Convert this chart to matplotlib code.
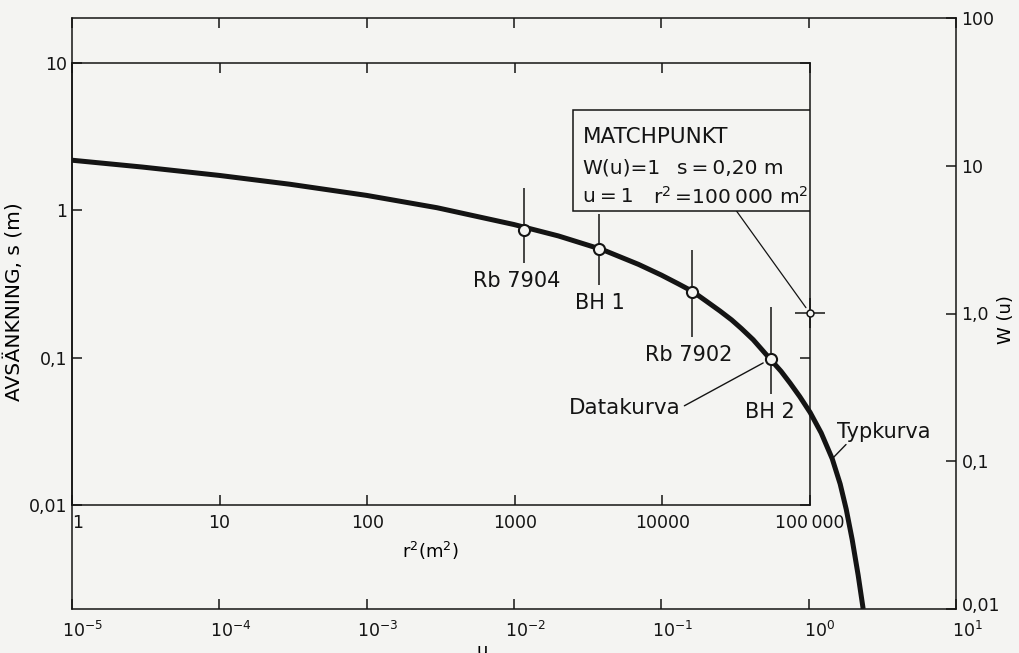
import matplotlib
matplotlib.use("Agg")
import matplotlib.pyplot as plt
import matplotlib.transforms as mtransforms
from matplotlib.patches import Rectangle

# type curve W(u)
u_curve = [1e-5, 3e-5, 1e-4, 3e-4, 1e-3, 3e-3, 1e-2, 2e-2, 4e-2, 7e-2, 0.1, 0.13, 0.163,
           0.2, 0.25, 0.3, 0.35, 0.42, 0.54, 0.65, 0.748, 0.87, 1.023, 1.216, 1.445,
           1.636, 1.798, 1.974, 2.168, 2.344]
W_curve = [10.9, 9.8, 8.6, 7.5, 6.3, 5.2, 4.0, 3.35, 2.7, 2.15, 1.82, 1.59, 1.41,
           1.22, 1.04, 0.905, 0.79, 0.665, 0.50, 0.406, 0.338, 0.274, 0.214, 0.1555, 0.104,
           0.0702, 0.0474, 0.0295, 0.0169, 0.0100]

# observation wells (data curve)
wells = ["Rb 7904", "BH 1", "Rb 7902", "BH 2"]
r2_obs = [1160, 3740, 15960, 54000]
s_obs = [0.73, 0.545, 0.278, 0.098]
s_bar_top = [1.41, 0.95, 0.54, 0.22]
s_bar_bot = [0.44, 0.31, 0.138, 0.057]

# match point
match_r2 = 1e5
match_s = 0.20
typ_u = 1.445
typ_W = 0.104

u_ticks = [1e-5, 1e-4, 1e-3, 1e-2, 1e-1, 1, 10]
u_labels = [r"$\mathdefault{10^{-5}}$", r"$\mathdefault{10^{-4}}$", r"$\mathdefault{10^{-3}}$",
            r"$\mathdefault{10^{-2}}$", r"$\mathdefault{10^{-1}}$", r"$\mathdefault{10^{0}}$",
            r"$\mathdefault{10^{1}}$"]
W_ticks = [0.01, 0.1, 1, 10, 100]
W_labels = ["0,01", "0,1", "1,0", "10", "100"]
r2_ticks = [1, 10, 100, 1000, 10000, 100000]
r2_labels = ["1", "10", "100", "1000", "10000", "100\u2009000"]
s_ticks = [0.01, 0.1, 1, 10]
s_labels = ["0,01", "0,1", "1", "10"]

bg = "#f4f4f2"
ink = "#141414"
plt.rcParams["font.family"] = ["DejaVu Sans"]
plt.rcParams["mathtext.default"] = "regular"
plt.rcParams["text.color"] = ink
plt.rcParams["axes.edgecolor"] = ink
plt.rcParams["xtick.color"] = ink
plt.rcParams["ytick.color"] = ink

fig = plt.figure(figsize=(10.2, 6.53), dpi=100, facecolor=bg)

# outer axes: type curve u / W(u)
ax = fig.add_axes([72 / 1020, 44 / 653, 884 / 1020, 591 / 653])
ax.set_facecolor(bg)
ax.set_xscale("log")
ax.set_yscale("log")
ax.set_xlim(1e-5, 10)
ax.set_ylim(0.01, 100)
ax.plot(u_curve, W_curve, color=ink, lw=3.6, solid_capstyle="butt",
        solid_joinstyle="round", zorder=2)

ax.xaxis.set_minor_locator(matplotlib.ticker.NullLocator())
ax.yaxis.set_minor_locator(matplotlib.ticker.NullLocator())
ax.set_xticks(u_ticks)
ax.set_xticklabels(u_labels)
ax.set_yticks(W_ticks)
ax.set_yticklabels(W_labels)
ax.tick_params(axis="x", direction="in", top=True, bottom=True, length=7, width=1.1,
               labelsize=12.5, pad=8.5)
ax.tick_params(axis="y", direction="in", left=False, right=True, labelleft=False,
               labelright=True, length=7, width=1.1, labelsize=12.5, pad=4)
for sp in ax.spines.values():
    sp.set_linewidth(1.1)

ax.set_xlabel("u", fontsize=13)
ax.xaxis.set_label_coords(0.464, -0.056)
ax.yaxis.set_label_position("right")
ax.set_ylabel("W (u)", fontsize=13)
ax.yaxis.set_label_coords(1.046, 0.489)

ax.annotate("Typkurva", xy=(typ_u, typ_W), xytext=(52, 27), textcoords="offset pixels",
            ha="center", va="center", fontsize=15,
            arrowprops=dict(arrowstyle="-", lw=1.0, color=ink, shrinkA=0, shrinkB=0,
                            relpos=(0.12, 0.0)))

# inner axes: data curve r^2 / s
ax2 = fig.add_axes([72 / 1020, 148 / 653, 738 / 1020, 442 / 653])
ax2.patch.set_visible(False)
ax2.set_xscale("log")
ax2.set_yscale("log")
ax2.set_xlim(1, 1e5)
ax2.set_ylim(0.01, 10)
ax2.xaxis.set_minor_locator(matplotlib.ticker.NullLocator())
ax2.yaxis.set_minor_locator(matplotlib.ticker.NullLocator())
ax2.set_xticks(r2_ticks)
ax2.set_xticklabels(r2_labels)
ax2.set_yticks(s_ticks)
ax2.set_yticklabels(s_labels)
ax2.tick_params(axis="x", direction="in", top=True, bottom=True, length=7, width=1.1,
                labelsize=12.5, pad=6.5)
ax2.tick_params(axis="y", direction="in", left=True, right=True, length=7, width=1.1,
                labelsize=12.5, pad=3.5)
for sp in ax2.spines.values():
    sp.set_linewidth(1.1)
ax2.get_xticklabels()[0].set_horizontalalignment("left")

ax2.set_xlabel("r$^2$(m$^2$)", fontsize=13)
ax2.xaxis.set_label_coords(0.486, -0.079)
ax2.set_ylabel("AVSÄNKNING, s (m)", fontsize=14.5)
ax2.yaxis.set_label_coords(-0.064, 0.46)

ax2.vlines(r2_obs, s_bar_bot, s_bar_top, color=ink, lw=1.1, zorder=3)
ax2.plot(r2_obs, s_obs, "o", ms=8, mfc=bg, mec=ink, mew=1.5, zorder=4)

label_dx = [-8, 1, -4, -1]
for name, x, yb, dx in zip(wells, r2_obs, s_bar_bot, label_dx):
    ax2.annotate(name, xy=(x, yb), xytext=(dx, -18), textcoords="offset pixels",
                 ha="center", va="center", fontsize=15)

ax2.annotate("Datakurva", xy=(r2_obs[3], s_obs[3]), xytext=(-146, -49),
             textcoords="offset pixels", ha="center", va="center", fontsize=15.5,
             arrowprops=dict(arrowstyle="-", lw=1.0, color=ink, shrinkA=1, shrinkB=6,
                             relpos=(1.0, 0.5)))

# match point with cross hair
ax2.plot([match_r2], [match_s], marker="+", ms=22, mew=1.1, color=ink, clip_on=False, zorder=5)
ax2.plot([match_r2], [match_s], marker="o", ms=5, mfc=bg, mec=ink, mew=1.1,
         clip_on=False, zorder=6)
ax2.annotate("", xy=(match_r2, match_s), xytext=(-74, 103), textcoords="offset pixels",
             arrowprops=dict(arrowstyle="-", lw=0.9, color=ink, shrinkA=0, shrinkB=5))

# MATCHPUNKT box
ax2.add_patch(Rectangle((0.679, 0.665), 0.321, 0.2285, transform=ax2.transAxes,
                        facecolor=bg, edgecolor=ink, lw=1.1, zorder=3))
box_kw = dict(transform=ax2.transAxes, fontsize=14.5, va="center", zorder=4)
ax2.text(0.692, 0.833, "MATCHPUNKT", **dict(box_kw, fontsize=15.5))
ax2.text(0.692, 0.762, "W(u)=1", **box_kw)
ax2.text(0.820, 0.762, "s\u2009=\u20090,20 m", **box_kw)
ax2.text(0.692, 0.697, "u\u2009=\u20091", **box_kw)
ax2.text(0.787, 0.697, "r$^2$\u2009=100\u2009000 m$^2$", **box_kw)

# shift u labels so that the "10" sits on the tick
shift = mtransforms.ScaledTranslation(11 / 100, 0, fig.dpi_scale_trans)
for lbl in ax.get_xticklabels():
    lbl.set_transform(lbl.get_transform() + shift)
# lowest W label sits a little above its tick
lift = mtransforms.ScaledTranslation(0, 5 / 100, fig.dpi_scale_trans)
low = ax.get_yticklabels()[0]
low.set_transform(low.get_transform() + lift)

fig.savefig("out.png", dpi=100, facecolor=bg)
